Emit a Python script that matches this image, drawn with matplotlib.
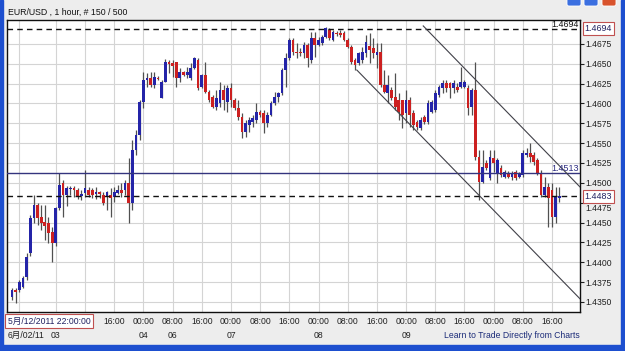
import matplotlib
matplotlib.use('Agg')
import matplotlib.pyplot as plt
import matplotlib.transforms as mtransforms
from matplotlib.patches import Rectangle, FancyBboxPatch
import numpy as np

# ---------------- data (EUR/USD 1 hour) ----------------
opens = [1.4356,1.4365,1.4365,1.4369,1.4381,1.4412,1.4456,1.4472,1.4457,1.4451,
         1.4449,1.4438,1.4424,1.4468,1.4500,1.4485,1.4492,1.4494,1.4491,1.4483,
         1.4487,1.4491,1.4491,1.4486,1.4488,1.4485,1.4482,1.4485,1.4482,1.4487,
         1.4491,1.4491,1.4500,1.4475,1.4541,1.4560,1.4602,1.4629,1.4632,1.4623,
         1.4632,1.4607,1.4627,1.4652,1.4651,1.4652,1.4632,1.4640,1.4636,1.4632,
         1.4645,1.4655,1.4621,1.4636,1.4614,1.4608,1.4595,1.4600,1.4617,1.4602,
         1.4619,1.4604,1.4594,1.4583,1.4564,1.4573,1.4577,1.4579,1.4589,1.4588,
         1.4575,1.4585,1.4600,1.4608,1.4613,1.4642,1.4657,1.4680,1.4665,1.4665,
         1.4663,1.4674,1.4655,1.4682,1.4674,1.4676,1.4684,1.4692,1.4680,1.4689,
         1.4689,1.4689,1.4680,1.4671,1.4655,1.4651,1.4655,1.4663,1.4672,1.4670,
         1.4661,1.4665,1.4623,1.4613,1.4617,1.4608,1.4604,1.4604,1.4588,1.4604,
         1.4588,1.4577,1.4569,1.4583,1.4577,1.4589,1.4592,1.4611,1.4619,1.4626,
         1.4626,1.4619,1.4621,1.4621,1.4621,1.4619,1.4595,1.4617,1.4533,1.4501,
         1.4525,1.4506,1.4531,1.4512,1.4519,1.4507,1.4512,1.4507,1.4514,1.4507,
         1.4510,1.4535,1.4538,1.4535,1.4529,1.4512,1.4485,1.4495,1.4491,1.4457,
         1.4481]
highs = [1.4368,1.4368,1.4378,1.4383,1.4412,1.4460,1.4485,1.4475,1.4472,1.4472,
         1.4457,1.4444,1.4470,1.4512,1.4504,1.4496,1.4496,1.4496,1.4494,1.4491,
         1.4516,1.4495,1.4494,1.4495,1.4490,1.4488,1.4490,1.4494,1.4495,1.4497,
         1.4500,1.4504,1.4531,1.4554,1.4566,1.4604,1.4640,1.4638,1.4640,1.4640,
         1.4634,1.4629,1.4656,1.4655,1.4655,1.4652,1.4645,1.4641,1.4646,1.4651,
         1.4658,1.4657,1.4637,1.4652,1.4617,1.4611,1.4617,1.4627,1.4623,1.4623,
         1.4626,1.4607,1.4604,1.4588,1.4579,1.4583,1.4585,1.4600,1.4592,1.4592,
         1.4589,1.4603,1.4614,1.4614,1.4645,1.4663,1.4682,1.4682,1.4676,1.4670,
         1.4677,1.4676,1.4690,1.4690,1.4684,1.4686,1.4696,1.4695,1.4692,1.4691,
         1.4692,1.4691,1.4682,1.4674,1.4657,1.4665,1.4671,1.4686,1.4689,1.4682,
         1.4676,1.4676,1.4642,1.4636,1.4621,1.4638,1.4613,1.4604,1.4617,1.4608,
         1.4592,1.4579,1.4583,1.4585,1.4604,1.4604,1.4617,1.4623,1.4629,1.4629,
         1.4627,1.4629,1.4626,1.4646,1.4629,1.4623,1.4619,1.4652,1.4541,1.4541,
         1.4529,1.4541,1.4541,1.4531,1.4523,1.4516,1.4515,1.4515,1.4516,1.4514,
         1.4541,1.4544,1.4550,1.4539,1.4531,1.4516,1.4507,1.4500,1.4500,1.4495,
         1.4495]
lows = [1.4353,1.4349,1.4363,1.4368,1.4378,1.4408,1.4449,1.4447,1.4441,1.4428,
        1.4424,1.4400,1.4421,1.4466,1.4457,1.4471,1.4485,1.4482,1.4480,1.4478,
        1.4482,1.4482,1.4481,1.4480,1.4481,1.4472,1.4466,1.4457,1.4476,1.4486,
        1.4482,1.4485,1.4449,1.4466,1.4535,1.4554,1.4594,1.4621,1.4621,1.4619,
        1.4629,1.4607,1.4627,1.4638,1.4633,1.4621,1.4627,1.4635,1.4632,1.4629,
        1.4643,1.4617,1.4619,1.4613,1.4602,1.4594,1.4592,1.4595,1.4592,1.4589,
        1.4595,1.4592,1.4579,1.4556,1.4558,1.4564,1.4570,1.4575,1.4583,1.4563,
        1.4570,1.4584,1.4598,1.4602,1.4611,1.4621,1.4655,1.4661,1.4657,1.4660,
        1.4657,1.4646,1.4651,1.4658,1.4672,1.4674,1.4682,1.4680,1.4679,1.4685,
        1.4684,1.4679,1.4670,1.4650,1.4642,1.4648,1.4651,1.4658,1.4651,1.4657,
        1.4645,1.4621,1.4613,1.4600,1.4604,1.4592,1.4579,1.4569,1.4575,1.4570,
        1.4566,1.4566,1.4566,1.4574,1.4574,1.4588,1.4589,1.4608,1.4613,1.4614,
        1.4607,1.4613,1.4614,1.4619,1.4619,1.4585,1.4585,1.4529,1.4478,1.4500,
        1.4516,1.4504,1.4514,1.4500,1.4507,1.4506,1.4506,1.4504,1.4504,1.4506,
        1.4507,1.4533,1.4526,1.4523,1.4510,1.4482,1.4482,1.4444,1.4444,1.4449,
        1.4476]
closes = [1.4365,1.4363,1.4375,1.4380,1.4407,1.4456,1.4472,1.4456,1.4449,1.4446,
          1.4437,1.4424,1.4468,1.4497,1.4485,1.4494,1.4494,1.4491,1.4482,1.4486,
          1.4494,1.4485,1.4485,1.4488,1.4486,1.4475,1.4488,1.4481,1.4488,1.4491,
          1.4487,1.4500,1.4475,1.4541,1.4560,1.4602,1.4629,1.4632,1.4623,1.4633,
          1.4631,1.4627,1.4652,1.4650,1.4647,1.4632,1.4640,1.4636,1.4640,1.4645,
          1.4657,1.4619,1.4636,1.4614,1.4604,1.4595,1.4607,1.4617,1.4604,1.4619,
          1.4604,1.4594,1.4583,1.4564,1.4575,1.4579,1.4582,1.4589,1.4585,1.4575,
          1.4585,1.4600,1.4608,1.4613,1.4642,1.4657,1.4680,1.4665,1.4663,1.4663,
          1.4674,1.4657,1.4682,1.4674,1.4680,1.4684,1.4695,1.4682,1.4690,1.4687,
          1.4686,1.4680,1.4671,1.4652,1.4648,1.4663,1.4665,1.4677,1.4667,1.4663,
          1.4665,1.4623,1.4614,1.4623,1.4607,1.4595,1.4589,1.4585,1.4604,1.4585,
          1.4573,1.4570,1.4579,1.4577,1.4600,1.4602,1.4613,1.4621,1.4626,1.4619,
          1.4619,1.4626,1.4617,1.4627,1.4627,1.4594,1.4617,1.4533,1.4501,1.4520,
          1.4519,1.4533,1.4525,1.4529,1.4510,1.4514,1.4507,1.4512,1.4506,1.4512,
          1.4538,1.4538,1.4533,1.4526,1.4512,1.4485,1.4495,1.4481,1.4457,1.4482,
          1.4483]

price_ticks = [1.4350, 1.4375, 1.4400, 1.4425, 1.4450, 1.4475, 1.4500,
               1.4525, 1.4550, 1.4575, 1.4600, 1.4625, 1.4650, 1.4675]
grid_idx = [2, 12, 20, 28, 36, 44, 52, 60, 68, 76, 84, 92, 100, 108,
            116, 124, 132, 140, 148]
time_tick_idx = [28, 36, 44, 52, 60, 68, 76, 84, 92, 100, 108,
                 116, 124, 132, 140, 148]
time_labels = ["16:00", "00:00", "08:00", "16:00", "00:00", "08:00", "16:00",
               "00:00", "08:00", "16:00", "00:00", "08:00", "16:00", "00:00",
               "08:00", "16:00"]
day_labels = {12: "03", 36: "04", 44: "06", 60: "07", 84: "08", 108: "09"}

high_line = 1.4694
h_line = 1.4513
last_line = 1.4483
upper_chan = ([112.7, 155.66], [1.46975, 1.44948])
lower_chan = ([94.5, 155.66], [1.4642, 1.4354])

title = "EUR/USD , 1 hour, # 150 / 500"
cursor_date = "5月/12/2011 22:00:00"
first_date = "6月/02/11"
footer = "Learn to Trade Directly from Charts"

# ---------------- figure ----------------
W, H = 625, 351
FONT = ['Liberation Sans', 'Noto Sans CJK JP', 'DejaVu Sans']
plt.rcParams['font.family'] = FONT
bg = '#ededed'
fig = plt.figure(figsize=(W / 100, H / 100), dpi=100, facecolor=bg)

frame = fig.add_axes([0, 0, 1, 1], zorder=-5)
frame.set_xlim(0, W); frame.set_ylim(H, 0); frame.axis('off')
blue = '#1d4fcf'
frame.add_patch(Rectangle((0, 0), 3, H, color=blue))
frame.add_patch(Rectangle((W - 4, 0), 4, H, color=blue))
frame.add_patch(Rectangle((0, H - 6), W, 6, color=blue))
for xb, col in [(567, '#3b6fe0'), (584, '#3b6fe0'), (602, '#d8532c')]:
    frame.add_patch(FancyBboxPatch((xb, -4), 14, 10, boxstyle='round,pad=0,rounding_size=2',
                                   facecolor=col, edgecolor='white', lw=0.6))

ax = fig.add_axes([7 / W, (H - 312) / H, (580 - 7) / W, (312 - 19.5) / H])
ax.set_facecolor('white')

n = len(closes)
idx = np.arange(n)
o = np.array(opens); c = np.array(closes)
hi = np.array(highs); lo = np.array(lows)
up = c >= o
cols = np.where(up, '#2424a8', '#cc2020')

ax.vlines(idx, lo, hi, color='#505050', lw=0.9, zorder=3)
bottoms = np.minimum(o, c)
heights = np.maximum(np.abs(c - o), 0.00008)
ax.bar(idx, heights, bottom=bottoms, width=0.75, color=cols, lw=0, zorder=4)

ax.set_xlim(-1.37, 155.66)
ax.set_ylim(1.43374, 1.47056)

ax.set_yticks(price_ticks)
ax.set_xticks(grid_idx)
ax.grid(True, color='#d4d4d4', lw=0.8, zorder=0)
ax.set_axisbelow(True)
ax.set_xticklabels([])
ax.tick_params(axis='x', length=0)
ax.yaxis.tick_right()
ax.set_yticklabels([f"{v:.4f}" for v in price_ticks], fontsize=6.2, color='#202020')
ax.tick_params(axis='y', length=3, width=0.8, pad=1, color='#202020')
for s in ax.spines.values():
    s.set_color('#101010'); s.set_linewidth(1)

# the label just under the last-price box is pushed down a little (partly hidden in the original)
for v, lab in zip(price_ticks, ax.get_yticklabels()):
    if abs(v - 1.4475) < 1e-6:
        lab.set_transform(lab.get_transform() +
                          mtransforms.ScaledTranslation(0, -4.5 / 100, fig.dpi_scale_trans))

ax.axhline(high_line, color='#111111', lw=1, ls=(0, (4, 3)), zorder=5)
ax.axhline(h_line, color='#34347e', lw=1, zorder=5)
ax.axhline(last_line, color='#111111', lw=1, ls=(0, (4, 3)), zorder=5)

ax.plot(*upper_chan, color='#404048', lw=0.8, zorder=5)
ax.plot(*lower_chan, color='#404048', lw=0.8, zorder=5)

tr = mtransforms.blended_transform_factory(ax.transAxes, ax.transData)
ax.text(0.998, high_line, f"{high_line:.4f}", transform=tr, ha='right', va='bottom',
        fontsize=6.4, color='#111111', zorder=6)
ax.text(0.998, h_line, f"{h_line:.4f}", transform=tr, ha='right', va='bottom',
        fontsize=6.4, color='#2a2a80', zorder=6)

box = dict(boxstyle='square,pad=0.22', facecolor='white', edgecolor='#c05050', lw=0.8)
for v in (high_line, last_line):
    ax.text(1.008, v, f"{v:.4f}", transform=tr, ha='left', va='center', fontsize=6.4,
            color='#202060', bbox=box, zorder=10, clip_on=False)

trx = mtransforms.blended_transform_factory(ax.transData, fig.transFigure)
y1 = 1 - 321 / H
y2 = 1 - 335 / H
for t, lab in zip(time_tick_idx, time_labels):
    ax.text(t, y1, lab, transform=trx, ha='center', va='center', fontsize=6.2,
            color='#202020', clip_on=False)
for t, lab in day_labels.items():
    ax.text(t, y2, lab, transform=trx, ha='center', va='center', fontsize=6.2,
            color='#202020', clip_on=False)

fig.text(8 / W, y1, cursor_date, ha='left', va='center', fontsize=6.2,
         color='#202060', bbox=dict(boxstyle='square,pad=0.3', facecolor='white',
                                    edgecolor='#c05050', lw=0.8), zorder=10)
fig.text(8 / W, y2, first_date, ha='left', va='center', fontsize=6.2, color='#202020')
fig.text(580 / W, y2, footer, ha='right', va='center', fontsize=6.2, color='#1a2a78')
fig.text(8 / W, 1 - 12 / H, title, ha='left', va='center', fontsize=6.3, color='#111111')

fig.savefig('out.png', dpi=100, facecolor=bg)
